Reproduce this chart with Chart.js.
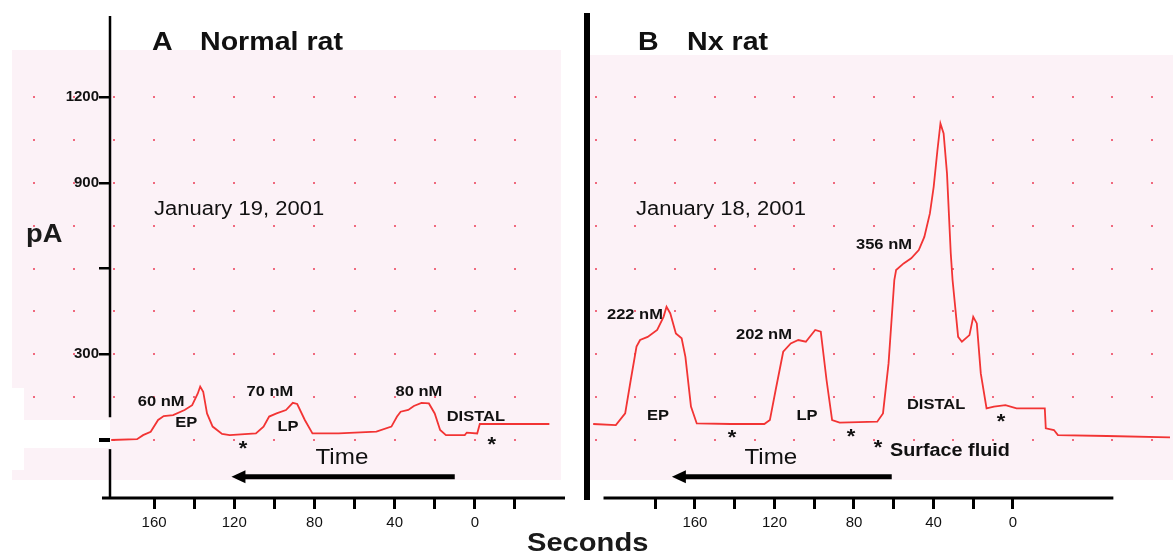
<!DOCTYPE html>
<html>
<head>
<meta charset="utf-8">
<script src="https://cdn.jsdelivr.net/npm/chart.js@4.4.1/dist/chart.umd.min.js"></script>
<style>
  body { margin: 0; background: #fff; }
  #wrap { position: relative; width: 1173px; height: 556px; overflow: hidden; font-family: "Liberation Sans", Arial, sans-serif; }
  canvas { position: absolute; top: 0; }
  #divider { position: absolute; left: 584px; top: 13px; width: 6px; height: 487px; background: #000; z-index: 3; }
  .lbl { position: absolute; color: #1a1a1a; z-index: 3; white-space: nowrap; transform-origin: left center; font-weight: bold; }
</style>
</head>
<body>
<div id="wrap">
  <canvas id="chartA" width="586" height="556" style="left:0"></canvas>
  <canvas id="chartB" width="583" height="556" style="left:590px"></canvas>
  <div id="divider"></div>
  <div class="lbl" style="left:26px;top:218px;font-size:26px;transform:scaleX(1.05)">pA</div>
  <div class="lbl" style="left:527px;top:527px;font-size:26px;transform:scaleX(1.12)">Seconds</div>
</div>
<script>
// panel A: normal rat, January 19 2001
const secA = [181.4, 168.5, 165.5, 161.7, 158, 155.2, 150.5, 144.8, 141, 138.2, 137, 135.5, 133.6, 130.8, 126.1, 122.3, 109.2, 105.4, 102.6, 98.9, 94.2, 90.8, 88.6, 84.8, 81, 67.9, 49.1, 41.6, 38.8, 37, 33.2, 30.4, 26.6, 22.9, 20, 17.3, 14.4, 5, 4, -1.2, -2.5, -37.2];
const pAA = [0, 3, 17, 29, 70, 84, 87, 105, 122, 163, 187, 169, 93, 47, 21, 17, 23, 47, 82, 93, 105, 130, 126, 70, 23, 23, 29, 47, 82, 99, 105, 119, 130, 128, 93, 35, 17, 17, 26, 23, 56, 56];

// panel B: Nx rat, January 18 2001
const secB = [211.2, 199.8, 195.1, 192.3, 189.4, 187.6, 183.8, 179, 175.8, 174.3, 172.4, 169.6, 166.7, 164.8, 162, 159.1, 142.1, 125.1, 122.3, 119.4, 115.6, 111.8, 108, 104.2, 99.5, 96.7, 93.8, 91, 87.2, 68.3, 65.4, 62.6, 59.7, 58.8, 55, 51.2, 47.4, 44.6, 41.8, 39.9, 38, 36.5, 34.9, 33.2, 31.3, 30.4, 27.6, 25.7, 21.9, 20, 18.2, 16.2, 13.3, 9.6, 3.8, -1.8, -16, -16.5, -20.6, -22.6, -47.3, -79];
const pAB = [56, 52, 93, 210, 327, 350, 361, 385, 431, 466, 443, 373, 356, 291, 117, 58, 56, 56, 70, 175, 309, 338, 350, 344, 385, 379, 210, 70, 61, 64, 93, 268, 560, 595, 618, 636, 665, 711, 793, 886, 1015, 1108, 1073, 933, 653, 560, 361, 344, 367, 431, 408, 233, 111, 117, 122, 111, 111, 41, 35, 17, 14, 9];

const yTicks = [0, 300, 600, 900, 1200];
const yLabels = [300, 900, 1200];
const xTicksA = [-20, 0, 20, 40, 60, 80, 100, 120, 140, 160];
const xTicksB = [0, 20, 40, 60, 80, 100, 120, 140, 160, 180];
const xLabels = [0, 40, 80, 120, 160];

// dotted paper grid
const dotY = [0, 150, 300, 450, 600, 750, 900, 1050, 1200];
const dotXA = [220, 200, 180, 160, 140, 120, 100, 80, 60, 40, 20, 0, -20];
const dotXB = [210, 190, 170, 150, 130, 110, 90, 70, 50, 30, 10, -10, -30, -50, -70];

const FONT = '"Liberation Sans", Arial, sans-serif';
const TRACE = 'rgb(242, 52, 52)';

const paper = {
  id: 'paper',
  beforeDraw(chart, args, o) {
    const { ctx, scales: { x, y } } = chart;
    ctx.save();
    ctx.fillStyle = '#fcf2f7';
    o.pink.forEach(r => ctx.fillRect(r[0], r[1], r[2], r[3]));
    ctx.fillStyle = 'rgba(238, 90, 112, 0.9)';
    o.dotX.forEach(sx => o.dotY.forEach(v => {
      ctx.fillRect(Math.round(x.getPixelForValue(sx)) - 1, Math.round(y.getPixelForValue(v)) - 1, 2, 2);
    }));
    ctx.fillStyle = '#fff';
    o.white.forEach(r => ctx.fillRect(r[0], r[1], r[2], r[3]));
    ctx.restore();
  },
  afterDraw(chart, args, o) {
    const { ctx, scales: { x, y } } = chart;
    const bottom = chart.chartArea.bottom;
    ctx.save();
    ctx.strokeStyle = '#000';
    ctx.fillStyle = '#000';
    // x axis line
    ctx.lineWidth = 3;
    ctx.beginPath();
    ctx.moveTo(x.getPixelForValue(o.axisFrom), bottom);
    ctx.lineTo(x.getPixelForValue(o.axisTo), bottom);
    ctx.stroke();
    // y axis line (with its gap near zero)
    ctx.lineWidth = 2.5;
    o.yLine.forEach(seg => {
      ctx.beginPath();
      ctx.moveTo(chart.chartArea.left, y.getPixelForValue(seg[0]));
      ctx.lineTo(chart.chartArea.left, y.getPixelForValue(seg[1]));
      ctx.stroke();
    });
    // time arrow
    o.arrows.forEach(a => {
      const py = y.getPixelForValue(a.y);
      const tip = x.getPixelForValue(a.to);
      ctx.lineWidth = 5;
      ctx.beginPath();
      ctx.moveTo(x.getPixelForValue(a.from), py);
      ctx.lineTo(tip + 10, py);
      ctx.stroke();
      ctx.beginPath();
      ctx.moveTo(tip, py);
      ctx.lineTo(tip + 14, py - 6.5);
      ctx.lineTo(tip + 14, py + 6.5);
      ctx.closePath();
      ctx.fill();
    });
    // text notes
    o.notes.forEach(n => {
      const px = x.getPixelForValue(n.x);
      let py = y.getPixelForValue(n.y);
      ctx.font = n.f + ' ' + FONT;
      ctx.fillStyle = '#111';
      ctx.textAlign = n.a || 'center';
      ctx.textBaseline = 'middle';
      if (n.t === '*') {
        ctx.textBaseline = 'alphabetic';
        py += 11;
      }
      ctx.save();
      ctx.translate(px, py);
      ctx.scale(1.1, 1);
      ctx.fillText(n.t, 0, 0);
      ctx.restore();
    });
    ctx.restore();
  }
};

function xScale(min, max, ticks) {
  return {
    type: 'linear',
    reverse: true,
    min: min,
    max: max,
    afterBuildTicks: s => { s.ticks = ticks.map(v => ({ value: v })); },
    afterFit: s => { s.height = 58; },
    border: { display: false },
    grid: { drawOnChartArea: false, drawTicks: true, tickLength: 11, lineWidth: 3, color: '#000' },
    ticks: {
      autoSkip: false, maxRotation: 0, padding: 5, color: '#111',
      font: { family: FONT, size: 15 },
      callback: v => xLabels.includes(v) ? String(v) : ''
    }
  };
}

const yBase = { min: -203, max: 1484 };

new Chart(document.getElementById('chartA'), {
  type: 'line',
  data: {
    datasets: [{
      data: secA.map((s, i) => ({ x: s, y: pAA[i] })),
      borderColor: TRACE, borderWidth: 1.8, pointRadius: 0, tension: 0
    }]
  },
  options: {
    responsive: false,
    animation: false,
    devicePixelRatio: 1,
    layout: { padding: { left: 0, top: 16, right: 21, bottom: 0 } },
    scales: {
      x: xScale(-45, 182, xTicksA),
      y: {
        ...yBase,
        afterBuildTicks: s => { s.ticks = yTicks.map(v => ({ value: v })); },
        afterFit: s => { s.width = 110; },
        border: { display: false },
        grid: {
          drawOnChartArea: false, drawTicks: true, tickLength: 11, color: '#000',
          lineWidth: c => c.tick && c.tick.value === 0 ? 4 : 2.5
        },
        ticks: {
          padding: 0, color: '#111',
          font: { family: FONT, size: 15, weight: 'bold' },
          callback: v => yLabels.includes(v) ? String(v) : ''
        }
      }
    },
    plugins: {
      legend: { display: false },
      tooltip: { enabled: false },
      paper: {
        pink: [[12, 50, 549, 430]],
        white: [[12, 388, 12, 82], [24, 420, 86, 28]],
        dotX: dotXA, dotY: dotY,
        axisFrom: 186, axisTo: -45,
        yLine: [[-203, -32], [80, 1484]],
        arrows: [{ from: 10, to: 121.4, y: -129 }],
        notes: [
          { t: 'A', x: 161, y: 1390, f: 'bold 26px', a: 'left' },
          { t: 'Normal rat', x: 137.1, y: 1390, f: 'bold 26px', a: 'left' },
          { t: 'January 19, 2001', x: 160, y: 808, f: '20px', a: 'left' },
          { t: '60 nM', x: 156.5, y: 133, f: 'bold 15px' },
          { t: 'EP', x: 144, y: 59, f: 'bold 15px' },
          { t: '70 nM', x: 102.2, y: 168, f: 'bold 15px' },
          { t: 'LP', x: 93.2, y: 45, f: 'bold 15px' },
          { t: '80 nM', x: 27.9, y: 168, f: 'bold 15px' },
          { t: 'DISTAL', x: -0.5, y: 80, f: 'bold 15px' },
          { t: '*', x: 115.6, y: -14, f: 'bold 20px' },
          { t: '*', x: -8.5, y: 0, f: 'bold 20px' },
          { t: 'Time', x: 66.3, y: -63, f: '22px' }
        ]
      }
    }
  },
  plugins: [paper]
});

new Chart(document.getElementById('chartB'), {
  type: 'line',
  data: {
    datasets: [{
      data: secB.map((s, i) => ({ x: s, y: pAB[i] })),
      borderColor: TRACE, borderWidth: 1.8, pointRadius: 0, tension: 0
    }]
  },
  options: {
    responsive: false,
    animation: false,
    devicePixelRatio: 1,
    layout: { padding: { left: 0, top: 16, right: 0, bottom: 0 } },
    scales: {
      x: xScale(-80.5, 212.8, xTicksB),
      y: { ...yBase, display: false }
    },
    plugins: {
      legend: { display: false },
      tooltip: { enabled: false },
      paper: {
        pink: [[0, 55, 583, 425]],
        white: [],
        dotX: dotXB, dotY: dotY,
        axisFrom: 206, axisTo: -50.5,
        yLine: [],
        arrows: [{ from: 61, to: 171.6, y: -129 }],
        notes: [
          { t: 'B', x: 188.7, y: 1390, f: 'bold 26px', a: 'left' },
          { t: 'Nx rat', x: 164, y: 1390, f: 'bold 26px', a: 'left' },
          { t: 'January 18, 2001', x: 189.7, y: 808, f: '20px', a: 'left' },
          { t: '222 nM', x: 190.2, y: 437, f: 'bold 15px' },
          { t: 'EP', x: 178.6, y: 84, f: 'bold 15px' },
          { t: '202 nM', x: 125.3, y: 367, f: 'bold 15px' },
          { t: 'LP', x: 103.6, y: 84, f: 'bold 15px' },
          { t: '356 nM', x: 64.9, y: 682, f: 'bold 15px' },
          { t: 'DISTAL', x: 38.7, y: 122, f: 'bold 15px' },
          { t: '*', x: 141.4, y: 24, f: 'bold 20px' },
          { t: '*', x: 81.5, y: 28, f: 'bold 20px' },
          { t: '*', x: 67.9, y: -10, f: 'bold 20px' },
          { t: 'Surface fluid', x: 61.9, y: -38, f: 'bold 18px', a: 'left' },
          { t: '*', x: 6.0, y: 80, f: 'bold 20px' },
          { t: 'Time', x: 121.8, y: -63, f: '22px' }
        ]
      }
    }
  },
  plugins: [paper]
});
</script>
</body>
</html>
